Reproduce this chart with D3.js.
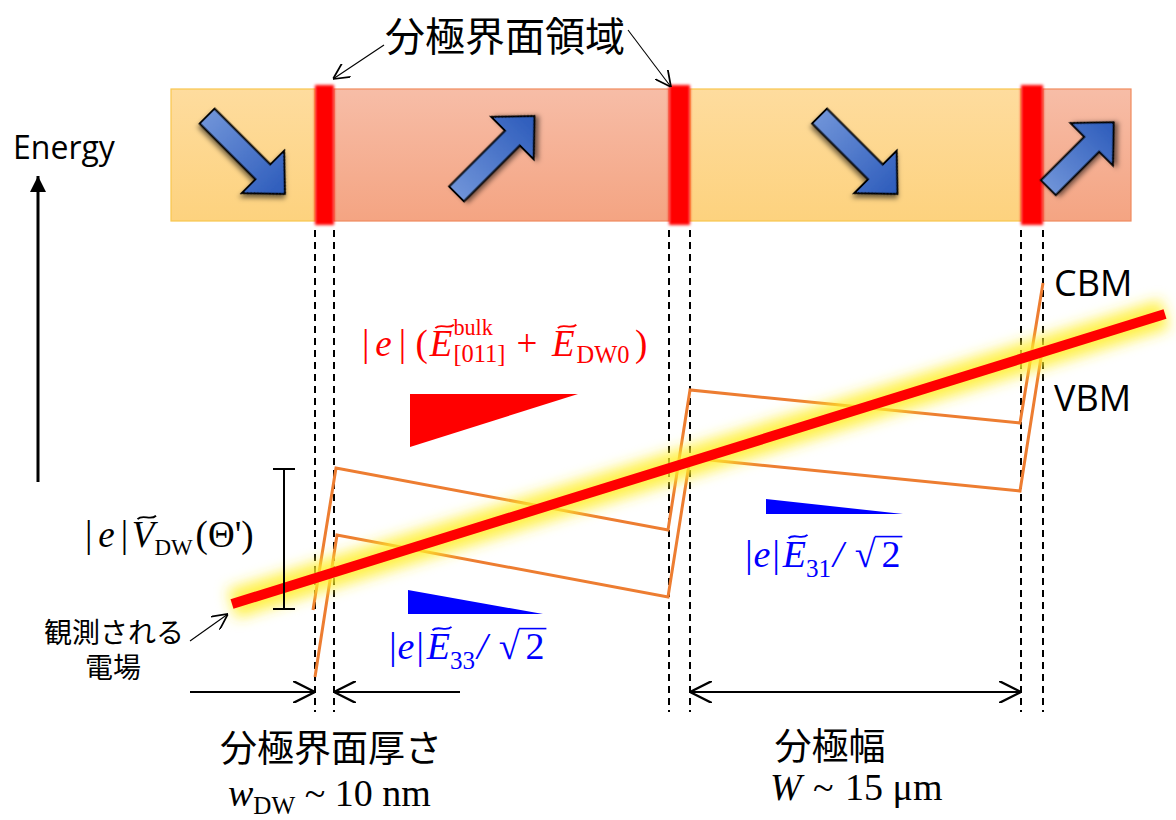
<!DOCTYPE html>
<html lang="ja">
<head>
<meta charset="UTF-8">
<title>分極界面領域</title>
<script src="https://d3js.org/d3.v7.min.js"></script>
<style>
  body { margin: 0; background: #fff; }
</style>
</head>
<body>
<svg></svg>
<script>
const width = 1176;
const height = 820;

// domain walls along the crystal (position units) and polarization of each domain
const wallStart = [14.4, 49.8, 85.0];
const wallEnd = [16.3, 51.9, 87.2];
const crystalEnds = [0, 96];
const polarization = ['down', 'up', 'down', 'up'];

// band edges (position, energy)
const cbmX = [14.2, 16.5, 49.7, 51.9, 84.9, 87.2];
const cbmE = [11.0, 25.2, 19.0, 33.0, 29.7, 43.7];
const vbmX = [14.4, 16.6, 49.7, 51.9, 84.9, 87.1];
const vbmE = [4.3, 18.5, 12.3, 26.2, 22.9, 36.9];

// observed field line
const fieldX = [6.1, 99.4];
const fieldE = [11.6, 40.6];

// DW potential step (error bar)
const stepX = 11.3;
const stepE = [11.1, 25.1];

// field wedges: x range, energy range
const bulkWedgeX = [23.9, 40.7], bulkWedgeE = [27.3, 32.6];
const e33WedgeX = [23.7, 37.2], e33WedgeE = [10.6, 13.0];
const e31WedgeX = [59.5, 73.2], e31WedgeE = [20.6, 22.1];

// dimension arrows
const dimE = 2.8;
const thicknessArrowsX = [[1.9, 14.4], [28.9, 16.3]];
const widthArrowX = [51.9, 85.0];

const x = d3.scaleLinear().domain([0, 96]).range([171, 1131]);
const y = d3.scaleLinear().domain([0, 50]).range([720, 220]);

const stripTop = 89, stripBottom = 221;
const serif = '"Liberation Serif", "Times New Roman", serif';
const jp = '"Noto Sans CJK JP", sans-serif';
const sans = '"Open Sans", "Noto Sans", sans-serif';

const svg = d3.select('svg')
    .attr('width', width)
    .attr('height', height);

svg.append('rect').attr('width', width).attr('height', height).attr('fill', '#fff');

const defs = svg.append('defs');

const gA = defs.append('linearGradient').attr('id', 'domA').attr('x1', 0).attr('y1', 0).attr('x2', 0).attr('y2', 1);
gA.append('stop').attr('offset', 0).attr('stop-color', '#FEDC9E');
gA.append('stop').attr('offset', 1).attr('stop-color', '#FDD27E');
const gB = defs.append('linearGradient').attr('id', 'domB').attr('x1', 0).attr('y1', 0).attr('x2', 0).attr('y2', 1);
gB.append('stop').attr('offset', 0).attr('stop-color', '#F7BDA7');
gB.append('stop').attr('offset', 1).attr('stop-color', '#F4A482');
const gArrow = defs.append('linearGradient').attr('id', 'polArrow').attr('x1', 0).attr('y1', 0).attr('x2', 1).attr('y2', 0);
gArrow.append('stop').attr('offset', 0).attr('stop-color', '#6F93D8');
gArrow.append('stop').attr('offset', 1).attr('stop-color', '#2C5BBB');

defs.append('filter').attr('id', 'shadow').attr('x', '-30%').attr('y', '-30%').attr('width', '160%').attr('height', '160%')
  .append('feDropShadow').attr('dx', 2).attr('dy', 3).attr('stdDeviation', 2.5).attr('flood-color', '#000').attr('flood-opacity', 0.55);
defs.append('filter').attr('id', 'soft').attr('x', '-50%').attr('y', '-10%').attr('width', '200%').attr('height', '120%')
  .append('feGaussianBlur').attr('stdDeviation', 1.4);
defs.append('filter').attr('id', 'glow').attr('x', '-10%').attr('y', '-50%').attr('width', '120%').attr('height', '200%')
  .append('feGaussianBlur').attr('stdDeviation', 7);

function marker(id, size, filled) {
  defs.append('marker').attr('id', id)
      .attr('viewBox', '0 0 10 10').attr('refX', 10).attr('refY', 5)
      .attr('markerWidth', size).attr('markerHeight', size)
      .attr('markerUnits', 'userSpaceOnUse')
      .attr('orient', 'auto-start-reverse')
    .append('path')
      .attr('d', filled ? 'M0,0 L10,5 L0,10 Z' : 'M0,0 L10,5 L0,10')
      .attr('fill', filled ? '#000' : 'none')
      .attr('stroke', filled ? 'none' : '#000')
      .attr('stroke-width', filled ? 0 : 1.1);
}
marker('thin', 16, false);
marker('dim', 22, false);
marker('solid', 16, true);

// domains strip
const domains = polarization.map((p, i) => ({
  from: i === 0 ? crystalEnds[0] : wallEnd[i - 1],
  to: i === polarization.length - 1 ? crystalEnds[1] : wallStart[i],
  pol: p,
  alt: i % 2
}));

svg.append('g').selectAll('rect').data(domains).join('rect')
    .attr('x', d => x(d.from)).attr('y', stripTop)
    .attr('width', d => x(d.to) - x(d.from)).attr('height', stripBottom - stripTop)
    .attr('fill', d => d.alt ? 'url(#domB)' : 'url(#domA)')
    .attr('stroke', d => d.alt ? '#F08B5E' : '#F9C64E')
    .attr('stroke-width', 1.2);

svg.append('g').selectAll('rect').data(wallStart).join('rect')
    .attr('x', d => x(d)).attr('y', stripTop - 4)
    .attr('width', (d, i) => x(wallEnd[i]) - x(d)).attr('height', stripBottom - stripTop + 8)
    .attr('fill', '#FF0000')
    .attr('filter', 'url(#soft)');

// polarization arrows
const arrowG = svg.append('g');
domains.forEach(d => {
  const cx = (x(d.from) + x(d.to)) / 2 + (d.alt ? -6 : 3);
  const cy = (stripTop + stripBottom) / 2;
  const L = Math.min(110, (x(d.to) - x(d.from)) * 1.05);
  const s = 10.5, H = 30, h = 31;
  const pts = [[-L / 2, -s], [L / 2 - h, -s], [L / 2 - h, -H], [L / 2, 0], [L / 2 - h, H], [L / 2 - h, s], [-L / 2, s]];
  arrowG.append('polygon')
      .attr('points', pts.map(p => p.join(',')).join(' '))
      .attr('transform', `translate(${cx},${cy}) rotate(${d.pol === 'down' ? 45 : -45})`)
      .attr('fill', 'url(#polArrow)')
      .attr('stroke', '#000')
      .attr('stroke-width', 2)
      .attr('filter', 'url(#shadow)');
});

// dashed wall guides
const guides = wallStart.flatMap((s, i) => [s, wallEnd[i]]);
svg.append('g').selectAll('line').data(guides).join('line')
    .attr('x1', d => x(d)).attr('x2', d => x(d))
    .attr('y1', 230).attr('y2', 712)
    .attr('stroke', '#000').attr('stroke-width', 2)
    .attr('stroke-dasharray', '7,5');

// field wedges
const wedge = (xs, es, pts) => pts.map(([i, j]) => [x(xs[i]), y(es[j])].join(',')).join(' ');
svg.append('polygon').attr('points', wedge(bulkWedgeX, bulkWedgeE, [[0, 1], [1, 1], [0, 0]])).attr('fill', '#FF0000');
svg.append('polygon').attr('points', wedge(e33WedgeX, e33WedgeE, [[0, 1], [0, 0], [1, 0]])).attr('fill', '#0000FF');
svg.append('polygon').attr('points', wedge(e31WedgeX, e31WedgeE, [[0, 1], [0, 0], [1, 0]])).attr('fill', '#0000FF');

// band edges
const band = d3.line().x(d => x(d[0])).y(d => y(d[1]));
[[cbmX, cbmE], [vbmX, vbmE]].forEach(([xs, es]) => {
  svg.append('path')
      .datum(xs.map((v, i) => [v, es[i]]))
      .attr('d', band)
      .attr('fill', 'none')
      .attr('stroke', '#ED7D31')
      .attr('stroke-width', 3);
});

// observed field with glow
const fieldPts = fieldX.map((v, i) => [v, fieldE[i]]);
svg.append('path').datum(fieldPts).attr('d', band)
    .attr('stroke', '#FFEF2A').attr('stroke-width', 30).attr('stroke-opacity', 0.85)
    .attr('filter', 'url(#glow)');
svg.append('path').datum(fieldPts).attr('d', band)
    .attr('stroke', '#FF0000').attr('stroke-width', 10);

// potential step bar
const stepG = svg.append('g').attr('stroke', '#000').attr('stroke-width', 2);
stepG.append('line').attr('x1', x(stepX)).attr('x2', x(stepX)).attr('y1', y(stepE[0])).attr('y2', y(stepE[1]));
stepE.forEach(e => stepG.append('line').attr('x1', x(stepX) - 11).attr('x2', x(stepX) + 11).attr('y1', y(e)).attr('y2', y(e)));

// dimension arrows
thicknessArrowsX.forEach(([a, b]) => {
  svg.append('line').attr('x1', x(a)).attr('x2', x(b)).attr('y1', y(dimE)).attr('y2', y(dimE))
      .attr('stroke', '#000').attr('stroke-width', 2).attr('marker-end', 'url(#dim)');
});
svg.append('line').attr('x1', x(widthArrowX[0])).attr('x2', x(widthArrowX[1])).attr('y1', y(dimE)).attr('y2', y(dimE))
    .attr('stroke', '#000').attr('stroke-width', 2)
    .attr('marker-start', 'url(#dim)').attr('marker-end', 'url(#dim)');

// energy axis
svg.append('line').attr('x1', 38).attr('x2', 38).attr('y1', 482).attr('y2', 176)
    .attr('stroke', '#000').attr('stroke-width', 3).attr('marker-end', 'url(#solid)');
svg.append('text').attr('x', 13).attr('y', 159).attr('font-family', sans).attr('font-size', 32).text('Energy');

svg.append('text').attr('x', 1054).attr('y', 296).attr('font-family', sans).attr('font-size', 36).text('CBM');
svg.append('text').attr('x', 1054).attr('y', 411).attr('font-family', sans).attr('font-size', 36).text('VBM');

// Japanese labels (baseline placed from the visual centre of the glyphs)
const jpSpan = (text, t, cx, cy, size) => text.append('tspan')
    .attr('x', cx).attr('y', cy + size * 0.38).attr('text-anchor', 'middle')
    .attr('font-family', jp).attr('font-size', size).attr('font-style', 'normal').text(t);
jpSpan(svg.append('text'), '分極界面領域', 505, 36, 40);
const fieldNote = svg.append('text');
jpSpan(fieldNote, '観測される', 114, 632, 28);
jpSpan(fieldNote, '電場', 113, 667, 28);

// annotation arrows
const ann = (x1, y1, x2, y2) => svg.append('line')
    .attr('x1', x1).attr('y1', y1).attr('x2', x2).attr('y2', y2)
    .attr('stroke', '#000').attr('stroke-width', 1.1).attr('marker-end', 'url(#thin)');
ann(384, 45, x(wallEnd[0]) - 1, 79);
ann(628, 30, x(wallStart[1]) + 2, 87);
ann(190, 641, x(fieldX[0]) - 4, 614);

// math labels: one <text> per formula, pieces as positioned tspans; tilde and radical bar drawn as strokes
function mathLabel(x0, y0, size, color, runs, head) {
  const text = svg.append('text').attr('fill', color).attr('font-family', serif).attr('font-size', size);
  if (head) jpSpan(text, head.t, head.cx, head.cy, head.size);
  const deco = svg.append('g').attr('stroke', color).attr('fill', 'none');
  const span = (t, fs, italic) => text.append('tspan')
      .attr('font-size', fs).attr('font-style', italic ? 'italic' : 'normal').text(t);
  let cx = x0;
  runs.forEach(r => {
    if (r.gap) cx += r.gap * size;
    if (r.sub !== undefined || r.sup !== undefined) {
      let w = 0;
      if (r.sup !== undefined) {
        const s = span(r.sup, size * 0.6, false).attr('x', cx).attr('y', y0 - size * 0.57);
        w = Math.max(w, s.node().getComputedTextLength());
      }
      if (r.sub !== undefined) {
        const fs = size * (r.subSize || 0.66);
        const s = span(r.sub, fs, false).attr('x', cx).attr('y', y0 + size * (r.subDy || 0.2));
        w = Math.max(w, s.node().getComputedTextLength());
      }
      cx += w;
      return;
    }
    const s = span(r.t, size, r.i).attr('x', cx).attr('y', y0);
    const w = s.node().getComputedTextLength();
    if (r.tilde) {
      const tw = size * 0.5, a = size * 0.045;
      const tx = cx + w * 0.66 - tw / 2, ty = y0 - size * 0.8;
      deco.append('path')
          .attr('d', `M${tx},${ty + a} C${tx + tw * 0.3},${ty - 2.2 * a} ${tx + tw * 0.7},${ty + 2.2 * a} ${tx + tw},${ty - a}`)
          .attr('stroke-width', size * 0.05);
    }
    if (r.over) {
      deco.append('line').attr('x1', cx - (r.gap || 0) * size - 1).attr('x2', cx + w + 2)
          .attr('y1', y0 - size * 0.8).attr('y2', y0 - size * 0.8)
          .attr('stroke-width', 1.6);
    }
    cx += w;
  });
}

mathLabel(362, 356, 37, '#FF0000', [
  { t: '|' }, { t: 'e', i: true, gap: 0.16 }, { t: '|', gap: 0.19 }, { t: '(', gap: 0.25 },
  { t: 'E', i: true, tilde: true, gap: 0.05 }, { sub: '[011]', sup: 'bulk', subDy: 0.17, gap: 0.03 },
  { t: '+', gap: 0.3 }, { t: 'E', i: true, tilde: true, gap: 0.4 }, { sub: 'DW0', subDy: 0.19, gap: 0.05 },
  { t: ')', gap: 0.15 }
]);
mathLabel(85, 547, 37, '#000', [
  { t: '|' }, { t: 'e', i: true, gap: 0.16 }, { t: '|', gap: 0.16 },
  { t: 'V', i: true, tilde: true, gap: 0.1 }, { sub: 'DW', subDy: 0.22, subSize: 0.62 }, { t: '(Θ\')', gap: 0.08 }
]);
const blueRuns = sub => [
  { t: '|', i: true }, { t: 'e', i: true }, { t: '|', i: true },
  { t: 'E', i: true, tilde: true, gap: 0.05 }, { sub: sub, subDy: 0.26, subSize: 0.66 }, { t: '/', i: true, gap: 0.05 },
  { t: '√', gap: 0.3 }, { t: '2', over: true, gap: 0.15 }
];
mathLabel(387, 659, 38, '#0000FF', blueRuns('33'));
mathLabel(743, 567, 38, '#0000FF', blueRuns('31'));

mathLabel(228, 806, 38, '#000',
  [{ t: 'w', i: true }, { sub: 'DW', subDy: 0.22, subSize: 0.66 }, { t: '~', gap: 0.25 }, { t: '10 nm', gap: 0.25 }],
  { t: '分極界面厚さ', cx: 331, cy: 748, size: 37 });
mathLabel(770, 800, 38, '#000',
  [{ t: 'W', i: true }, { t: '~', gap: 0.3 }, { t: '15 μm', gap: 0.3 }],
  { t: '分極幅', cx: 830, cy: 746, size: 37 });
</script>
</body>
</html>
